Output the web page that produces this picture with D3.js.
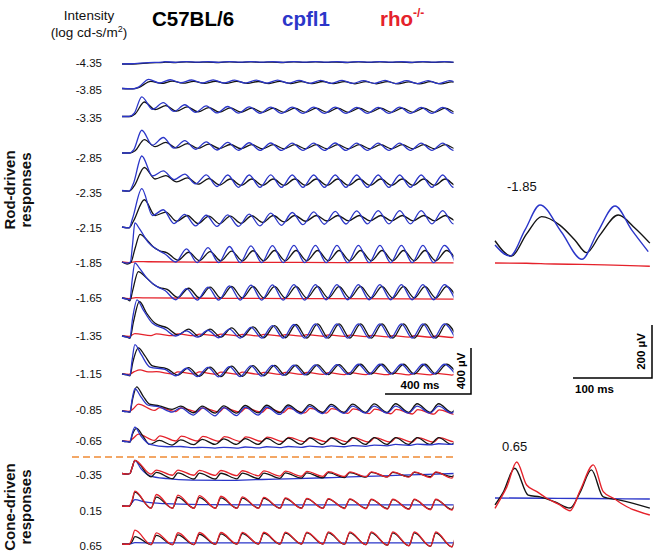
<!DOCTYPE html>
<html><head><meta charset="utf-8">
<script src="https://cdn.jsdelivr.net/npm/d3@7"></script>
<style>body{margin:0;background:#fff}svg{display:block}text{font-family:"Liberation Sans",Arial,sans-serif}</style>
</head><body>
<svg id="c" width="656" height="555"></svg>
<script>
// ---------------- data ----------------
const intensities = ["-4.35","-3.85","-3.35","-2.85","-2.35","-2.15","-1.85","-1.65","-1.35","-1.15","-0.85","-0.65","-0.35","0.15","0.65"];
const flashPeriod = 100; // ms (10 Hz flicker)
// onset knots [ms, µV], steady-train latency (ms), peak & trough amplitudes (µV), trough phase
const blackOnset = [
 [[0,0],[50,0],[130,10],[195,14]],
 [[0,0],[50,-4],[77,8]],
 [[0,0],[37,0],[61,22]],
 [[0,0],[37,0],[61,20]],
 [[0,-2],[33,-5],[57,40]],
 [[0,0],[33,-8],[53,50]],
 [[0,0],[24,-18],[41,-5],[61,120],[84,240],[114,195],[146,130],[175,98]],
 [[0,0],[24,-10],[37,-24],[49,60],[76,230],[106,190],[146,120],[175,90]],
 [[0,0],[24,-10],[37,-20],[53,120],[81,300],[114,200],[154,110]],
 [[0,0],[24,-8],[37,-15],[50,100],[76,228],[106,160],[142,70]],
 [[0,0],[24,-6],[37,-10],[49,100],[68,210],[98,130],[128,60]],
 [[0,0],[24,-6],[37,-10],[49,60],[68,110],[98,40],[128,-30]],
 [[0,0],[24,-5],[37,0],[47,50]],
 [[0,0],[33,-2],[47,40]],
 [[0,0],[33,-2],[47,20]]
];
const blackLag = [0,34,4,4,4,4,10,10,10,10,73,73,60,60,60];
const blackFall = [0.5,0.5,0.5,0.5,0.5,0.5,0.5,0.5,0.5,0.5,0.6,0.6,0.75,0.75,0.75];
const blackPeaks = [
 [17,18,17,18,18,17,18,18,17,18,18,17,18,18,18],
 [62,64,62,63,62,61,62,60,61,60,59,60,58,59,58,58],
 [126,95,84,78,75,73,72,72,72,73,72,72,72,72,72,72],
 [117,92,82,77,74,73,72,72,72,72,72,72,72,72,72,72],
 [200,130,110,103,100,100,100,100,100,100,100,100,100,100,100,100],
 [237,130,100,95,95,98,100,100,100,100,100,100,100,100,100,100],
 [80,85,90,95,98,100,100,100,100,100,100,100,100,100],
 [75,85,95,100,100,100,100,100,100,100,100,100,100,100],
 [70,60,60,70,80,90,100,105,105,105,105,105,105,105],
 [45,55,60,68,72,75,78,80,82,85,85,85,85,85],
 [45,42,42,45,48,50,52,55,58,60,62,63,63,63,63],
 [5,10,15,18,20,22,25,27,28,30,30,30,30,30,30],
 [115,10,5,3,2,3,4,5,6,7,8,9,9,9,9,9],
 [120,77,75,72,70,68,66,64,62,60,58,56,55,55,55,55],
 [65,75,80,85,88,90,92,95,96,97,97,97,97,97,97,97]
];
const blackTroughs = [
 [13,14,13,14,14,13,14,14,13,14,14,13,14,14,14],
 [44,46,44,45,44,43,43,42,42,41,41,40,40,40,40,40],
 [60,46,40,38,37,36,36,36,36,36,36,36,36,36,36,36],
 [55,44,40,38,37,36,36,36,36,36,36,36,36,36,36,36],
 [100,75,55,48,45,45,45,45,45,45,45,45,45,45,45,45],
 [100,50,30,28,32,40,45,50,52,54,54,54,54,54,54,54],
 [15,12,10,10,10,10,10,10,10,10,10,10,10,10],
 [5,2,0,0,0,0,0,0,0,0,0,0,0,0],
 [10,-5,-10,-10,-15,-15,-18,-18,-18,-18,-18,-18,-18,-18],
 [-10,-20,-23,-20,-15,-10,-8,-5,-3,0,0,0,0,0],
 [15,-15,-18,-18,-16,-15,-14,-13,-12,-12,-12,-12,-12,-12,-12],
 [-35,-32,-30,-30,-30,-30,-30,-30,-30,-30,-30,-30,-30,-30,-30],
 [-30,-45,-48,-48,-46,-44,-42,-40,-38,-35,-32,-30,-28,-27,-27,-27],
 [-18,-18,-18,-18,-18,-18,-18,-18,-18,-18,-20,-22,-25,-28,-30,-32],
 [-5,-5,-5,-3,0,0,0,0,0,-3,-6,-10,-15,-20,-24,-24]
];
const blueOnset = [
 [[0,0],[41,2],[122,12],[187,16]],
 [[0,0],[49,-4],[77,12]],
 [[0,0],[33,0],[57,28]],
 [[0,0],[33,0],[55,30]],
 [[0,0],[33,-5],[53,60]],
 [[0,0],[33,-8],[50,80]],
 [[0,0],[24,-10],[39,0],[49,150],[60,340],[81,290],[122,170],[167,104]],
 [[0,0],[24,-10],[37,-15],[47,150],[60,306],[81,260],[122,160],[167,95]],
 [[0,0],[24,-10],[37,-15],[49,150],[70,315],[98,230],[142,110]],
 [[0,0],[24,-8],[37,-12],[47,120],[60,255],[89,170],[130,60]],
 [[0,0],[24,-6],[37,-10],[47,100],[60,195],[89,120],[122,50]],
 [[0,0],[24,-6],[37,-10],[47,60],[60,120],[89,40],[130,-30],[211,-50]],
 [[0,0],[24,-5],[37,0],[47,50],[60,115],[89,40],[130,-20],[211,-45],[325,-58],[488,-60],[650,-52],[813,-45],[976,-35],[1138,-25],[1300,-15],[1463,-5],[1545,0]],
 [[0,0],[33,-2],[47,30],[60,55],[106,35],[203,20],[366,12],[650,9],[1057,9],[1545,9]],
 [[0,0],[33,0],[60,12],[163,9],[1545,9]]
];
const blueLag = [0,24,-8,-8,-8,-8,0,0,0,0,73,73,null,null,null];
const blueFall = [0.5,0.5,0.5,0.5,0.5,0.5,0.5,0.5,0.5,0.5,0.6,0.6,0.5,0.5,0.5];
const bluePeaks = [
 [20,21,20,21,21,20,21,21,20,21,21,20,21,21,21],
 [80,76,74,75,73,72,72,70,71,70,69,70,68,69,68,68],
 [171,120,102,92,87,84,82,81,81,81,80,80,81,80,80,80],
 [198,135,108,97,92,89,87,86,86,87,86,86,86,86,86,86],
 [300,171,142,136,135,135,136,135,135,135,135,135,135,135,135,135],
 [333,150,110,102,106,112,120,126,132,136,140,142,142,142,142,142],
 [70,115,125,135,140,143,145,145,145,145,145,145,145,145],
 [65,81,95,105,112,115,117,117,117,117,117,117,117,117],
 [60,45,50,60,75,90,100,105,105,105,105,105,105,105],
 [40,50,58,65,70,75,78,80,82,85,85,85,85,85],
 [35,27,27,30,33,35,38,40,42,42,42,42,42,42,42],
 [-48,-55,-55,-52,-50,-48,-45,-42,-40,-35,-30,-28,-24,-20],
 null, null, null
];
const blueTroughs = [
 [15,16,15,16,16,15,16,16,15,16,16,15,16,16,16],
 [48,50,48,48,47,46,46,45,45,44,44,43,43,42,42,42],
 [62,44,36,31,29,28,27,27,27,27,27,27,27,27,27,27],
 [68,42,32,26,24,23,23,23,23,23,23,23,23,23,23,23],
 [126,95,58,35,28,27,27,27,27,27,27,27,27,27,27,27],
 [100,30,10,6,6,10,15,20,24,26,27,27,27,27,27,27],
 [0,-5,-5,-5,-5,-5,-5,-5,-5,-5,-5,-5,-5,-5],
 [-15,-18,-18,-18,-18,-18,-18,-15,-15,-15,-15,-15,-15,-15],
 [0,-10,-15,-18,-18,-18,-18,-18,-18,-18,-18,-18,-18,-18],
 [-15,-23,-25,-22,-18,-12,-8,-5,-3,-2,0,0,0,0],
 [-10,-35,-42,-40,-35,-30,-25,-22,-20,-18,-18,-18,-18,-18,-18],
 [-58,-62,-62,-60,-57,-55,-52,-50,-46,-42,-38,-33,-30,-25],
 null, null, null
];
const redOnset = [
 null,null,null,null,null,null,
 [[0,0],[33,-6],[65,4],[122,2],[407,-2],[813,-4],[1220,-6],[1545,-8]],
 [[0,0],[33,-5],[65,3],[122,1],[488,-3],[976,-6],[1545,-9]],
 [[0,0],[33,-3]],
 [[0,0],[33,-3],[57,20],[84,36],[122,18]],
 [[0,0],[33,-3],[53,20]],
 [[0,0],[33,-3],[53,25]],
 [[0,0],[24,-5],[37,0],[47,50]],
 [[0,0],[33,-2],[47,50]],
 [[0,0],[33,-2],[47,50]]
];
const redLag = [null,null,null,null,null,null,null,null,60,60,76,76,60,60,60];
const redFall = [0.75,0.75,0.75,0.75,0.75,0.75,0.75,0.75,0.75,0.75,0.75,0.75,0.75,0.75,0.75];
const redPeaks = [
 null,null,null,null,null,null,null,null,
 [21,18,18,16,16,14,14,12,12,10,8,6,4,2,0,-2],
 [20,18,18,16,16,15,14,14,12,12,10,8,6,5,4],
 [60,30,28,27,27,26,25,24,22,20,18,16,14,12,10,8],
 [60,45,42,40,38,36,34,32,30,30,30,30,30,30,30,30],
 [115,30,30,28,26,24,22,20,18,16,15,15,15,15,15,15],
 [130,100,95,90,85,80,75,70,66,64,62,60,60,60,60,60],
 [120,97,98,100,100,101,102,103,104,105,105,105,105,105,105,105]
];
const redTroughs = [
 null,null,null,null,null,null,null,null,
 [4,3,3,2,2,1,0,-1,-2,-4,-5,-7,-9,-11,-13,-14],
 [0,0,-2,-2,-3,-3,-4,-4,-5,-6,-6,-7,-8,-9,-9],
 [5,-5,-8,-9,-10,-12,-14,-16,-18,-20,-22,-24,-26,-28,-30,-33],
 [5,0,0,-2,-3,-4,-5,-6,-7,-8,-9,-9,-9,-9,-9,-9],
 [-5,-15,-15,-16,-18,-20,-22,-24,-25,-26,-28,-30,-32,-35,-40,-45],
 [-21,-21,-21,-21,-21,-21,-21,-21,-21,-22,-24,-27,-30,-33,-36,-36],
 [-5,-5,-5,-3,0,0,0,0,0,-3,-6,-10,-15,-20,-24,-24]
];
// enlarged insets [ms, µV]
const insetRodLabel = "-1.85", insetConeLabel = "0.65";
const insetRodBlack = [[0,84],[21,26],[40,110],[59,175],[82,143],[101,87],[116,39],[133,106],[156,181],[177,132],[196,75]];
const insetRodBlue  = [[0,68],[19,26],[38,125],[57,219],[84,117],[110,14],[130,117],[152,215],[173,125],[194,43]];
const insetRodRed   = [[0,0],[40,-1],[75,-4],[110,-5],[150,-8],[196,-12]];
const insetConeBlack= [[0,-26],[10,19],[25,112],[42,11],[57,4],[76,-15],[95,-38],[108,23],[122,106],[137,4],[158,-8],[196,-38]];
const insetConeBlue = [[0,0],[60,-1],[120,-2],[196,-4]];
const insetConeRed  = [[0,-39],[6,-8],[15,42],[27.5,136],[40,49],[53,24],[65,0],[82,-26],[95,-48],[108,30],[124.5,125],[137,24],[150,-1],[167,-33],[196,-64]];

// ---------------- layout ----------------
const svg = d3.select("#c");
const C = {black:"#141414", blue:"#2b36c9", red:"#e5222b"};
const rowY = [64,88.5,116.5,153,190.5,227,262,298,336,374,411,441,473.5,506,544];
const labelY = [63,90,118,158,193,228,263,298,336,374,410,441,475,511,546];
const x = d3.scaleLinear().domain([0,1540]).range([122,453]);
const v = d3.scaleLinear().domain([0,400]).range([0,-46]);

svg.append("defs").append("clipPath").attr("id","clipMain")
  .append("rect").attr("x",121).attr("y",0).attr("width",332.5).attr("height",555);

function knots(onset, lag, peaks, troughs, fall){
  const pts = onset ? onset.map(d=>d.slice()) : [];
  if (!peaks || lag==null) return pts;
  const last = pts.length ? pts[pts.length-1][0] : -1e9;
  let k = Math.ceil((last - lag)/flashPeriod);
  while (lag + k*flashPeriod <= last) k++;
  peaks.forEach((p,i)=>{
    const tp = lag + (k+i)*flashPeriod;
    pts.push([tp,p]);
    if (troughs && troughs[i]!=null) pts.push([tp + fall*flashPeriod, troughs[i]]);
  });
  return pts;
}
const gTr = svg.append("g").attr("clip-path","url(#clipMain)");
const series = [
  {c:C.black, on:blackOnset, lag:blackLag, pk:blackPeaks, tr:blackTroughs, f:blackFall},
  {c:C.blue,  on:blueOnset,  lag:blueLag,  pk:bluePeaks,  tr:blueTroughs,  f:blueFall},
  {c:C.red,   on:redOnset,   lag:redLag,   pk:redPeaks,   tr:redTroughs,   f:redFall}
];
intensities.forEach((lab,i)=>{
  const g = gTr.append("g").attr("transform",`translate(0,${rowY[i]})`);
  const order = i>=12 ? [1,0,2] : [2,0,1];
  order.forEach(si=>{
    const s = series[si];
    if (!s.on[i]) return;
    const pts = knots(s.on[i], s.lag[i], s.pk[i], s.tr[i], s.f[i]);
    const line = d3.line().x(d=>x(d[0])).y(d=>v(d[1])).curve(d3.curveMonotoneX);
    g.append("path").attr("d",line(pts)).attr("fill","none")
      .attr("stroke",s.c).attr("stroke-width",1.3).attr("stroke-linejoin","round");
  });
  svg.append("text").attr("x",102).attr("y",labelY[i]).attr("dy","0.35em")
    .attr("text-anchor","end").attr("font-size",11.5).attr("fill","#111").text(lab);
});

// headers
svg.append("text").attr("x",89).attr("y",19.5).attr("text-anchor","middle").attr("font-size",13.5).attr("fill","#111").text("Intensity");
const t2 = svg.append("text").attr("x",89).attr("y",36.5).attr("text-anchor","middle").attr("font-size",13.5).attr("fill","#111");
t2.append("tspan").text("(log cd-s/m");
t2.append("tspan").attr("font-size",9).attr("dy",-5).text("2");
t2.append("tspan").attr("dy",5).text(")");
svg.append("text").attr("x",152).attr("y",25.5).attr("font-size",20.5).attr("font-weight","bold").attr("fill","#000").text("C57BL/6");
svg.append("text").attr("x",282).attr("y",25.5).attr("font-size",20.5).attr("font-weight","bold").attr("fill",C.blue).text("cpfl1");
const t3 = svg.append("text").attr("x",380).attr("y",25.5).attr("font-size",20.5).attr("font-weight","bold").attr("fill",C.red);
t3.append("tspan").text("rho");
t3.append("tspan").attr("font-size",12).attr("dy",-9).text("-/-");

function vlabel(cx, cy, l1, l2){
  const g = svg.append("g").attr("transform",`translate(${cx},${cy}) rotate(-90)`);
  g.append("text").attr("text-anchor","middle").attr("y",-3).attr("font-size",15).attr("font-weight","bold").attr("fill","#111").text(l1);
  g.append("text").attr("text-anchor","middle").attr("y",13).attr("font-size",15).attr("font-weight","bold").attr("fill","#111").text(l2);
}
vlabel(18, 190, "Rod-driven", "responses");
vlabel(18, 507, "Cone-driven", "responses");

// dashed separator
svg.append("line").attr("x1",72).attr("x2",453).attr("y1",457).attr("y2",457)
  .attr("stroke","#f08a35").attr("stroke-width",1.6).attr("stroke-dasharray","7,4");

// main scale bar (400 ms / 400 µV)
const sbX = 471, sbY = 394;
const sbW = x(400)-x(0);
svg.append("path").attr("d",`M${sbX - sbW},${sbY}H${sbX}V${sbY + v(400)}`)
  .attr("fill","none").attr("stroke","#000").attr("stroke-width",1.5);
svg.append("text").attr("x",sbX - sbW/2 - 8).attr("y",sbY-5).attr("text-anchor","middle")
  .attr("font-size",11.5).attr("font-weight","bold").text("400 ms");
svg.append("text").attr("transform",`translate(${sbX-6},${sbY + v(200)}) rotate(-90)`).attr("text-anchor","middle")
  .attr("font-size",11.5).attr("font-weight","bold").text("400 \u00b5V");

// insets
const ix = d3.scaleLinear().domain([0,100]).range([495,574]);
const iv = d3.scaleLinear().domain([0,200]).range([0,-53]);
function inset(baseY, data){
  const g = svg.append("g").attr("transform",`translate(0,${baseY})`);
  const line = d3.line().x(d=>ix(d[0])).y(d=>iv(d[1])).curve(d3.curveMonotoneX);
  data.forEach(([pts,c])=>g.append("path").attr("d",line(pts)).attr("fill","none").attr("stroke",c).attr("stroke-width",1.4));
}
inset(263, [[insetRodRed,C.red],[insetRodBlack,C.black],[insetRodBlue,C.blue]]);
inset(498, [[insetConeBlue,C.blue],[insetConeBlack,C.black],[insetConeRed,C.red]]);
svg.append("text").attr("x",507).attr("y",191).attr("font-size",13).attr("fill","#111").text(insetRodLabel);
svg.append("text").attr("x",502).attr("y",451).attr("font-size",13).attr("fill","#111").text(insetConeLabel);
const isbX = 652, isbY = 378;
svg.append("path").attr("d",`M${isbX-(ix(100)-ix(0))},${isbY}H${isbX}V${isbY+iv(200)}`)
  .attr("fill","none").attr("stroke","#000").attr("stroke-width",1.5);
svg.append("text").attr("x",isbX-(ix(100)-ix(0))/2 - 18).attr("y",isbY+15).attr("text-anchor","middle")
  .attr("font-size",11.5).attr("font-weight","bold").text("100 ms");
svg.append("text").attr("transform",`translate(${isbX-7},${isbY+iv(100)}) rotate(-90)`).attr("text-anchor","middle")
  .attr("font-size",11.5).attr("font-weight","bold").text("200 \u00b5V");
</script>
</body></html>
